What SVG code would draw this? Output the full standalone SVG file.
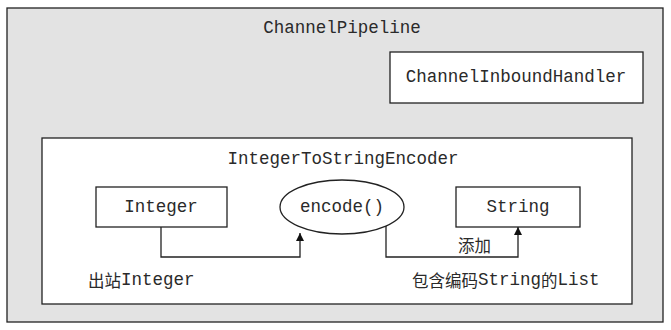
<svg xmlns="http://www.w3.org/2000/svg" width="671" height="330" viewBox="0 0 671 330">
<style>
.t{font-family:"Liberation Mono","Courier New",monospace;font-size:17.5px;fill:#2a2a2a;text-anchor:middle;dominant-baseline:central}
.tl{font-family:"Liberation Mono","Courier New",monospace;font-size:17.5px;fill:#2a2a2a;dominant-baseline:central}
.cjk{font-family:"Noto Sans CJK SC",sans-serif;font-size:16.5px}
.box{fill:#fff;stroke:#222;stroke-width:1.3}
.ln{fill:none;stroke:#222;stroke-width:1.3}
</style>
<defs>
<marker id="ah" viewBox="0 0 10 10" refX="10" refY="5" markerWidth="8" markerHeight="12" markerUnits="userSpaceOnUse" orient="auto">
<path d="M0,0 L10,5 L0,10 z" fill="#111"/>
</marker>
</defs>
<g id="pipeline">
<rect x="7" y="8" width="656" height="314" fill="#e3e3e3" stroke="#222" stroke-width="1.3"/>
<text class="t" x="342" y="28">ChannelPipeline</text>
</g>
<g id="inbound">
<rect class="box" x="390" y="52" width="253" height="51"/>
<text class="t" x="516" y="77">ChannelInboundHandler</text>
</g>
<g id="encoder">
<rect class="box" x="42" y="138" width="590" height="166"/>
<text class="t" x="343" y="159">IntegerToStringEncoder</text>
</g>
<g id="integer">
<rect class="box" x="96" y="187" width="131" height="40"/>
<text class="t" x="161" y="207">Integer</text>
</g>
<g id="encode">
<ellipse class="box" cx="342" cy="207" rx="62" ry="27"/>
<text class="t" x="342" y="207">encode()</text>
</g>
<g id="string">
<rect class="box" x="456" y="187" width="124" height="40"/>
<text class="t" x="518" y="207">String</text>
</g>
<g id="connectors">
<path class="ln" d="M161,227 V257 H300 V233" marker-end="url(#ah)"/>
<path class="ln" d="M386,226 V257 H518 V227" marker-end="url(#ah)"/>
</g>
<g id="labels">
<text class="tl" x="458" y="245"><tspan class="cjk">添加</tspan></text>
<text class="tl" x="88" y="280"><tspan class="cjk">出站</tspan>Integer</text>
<text class="tl" x="412" y="280"><tspan class="cjk">包含编码</tspan>String<tspan class="cjk">的</tspan>List</text>
</g>
</svg>
